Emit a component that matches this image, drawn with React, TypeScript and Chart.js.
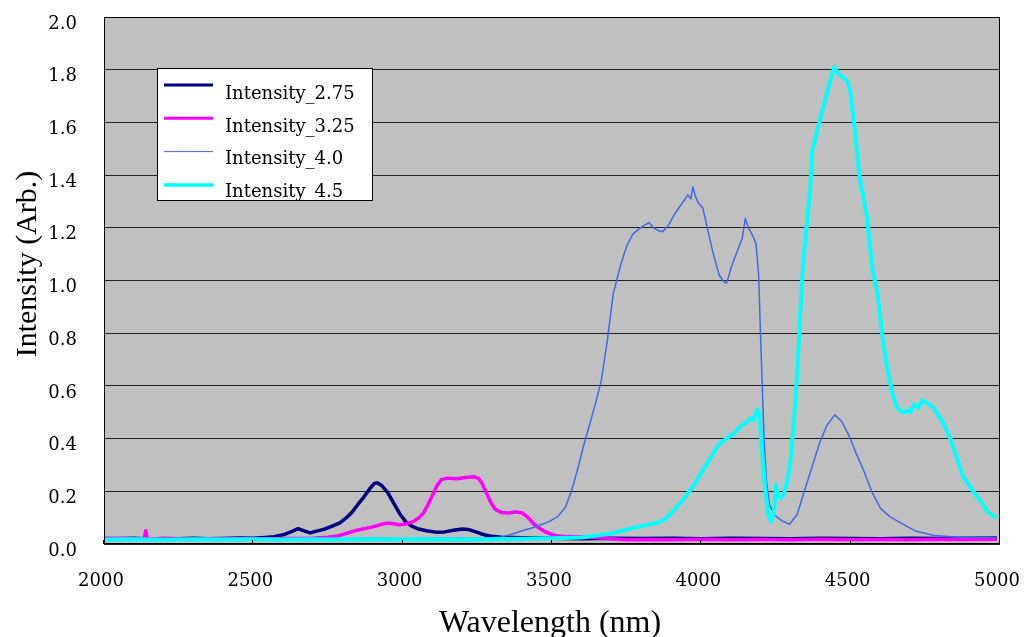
import { useEffect, useRef } from "react";
import { Chart, registerables } from "chart.js";

Chart.register(...registerables);

// Emission spectra, [wavelength (nm), intensity (arb.)]
const INTENSITY_2_75: [number, number][] = [
  [2000, 0.021], [2050, 0.02], [2100, 0.022], [2150, 0.019], [2200, 0.021], [2250, 0.02],
  [2300, 0.022], [2350, 0.02], [2400, 0.021], [2450, 0.023], [2500, 0.022], [2540, 0.025],
  [2570, 0.028], [2600, 0.035], [2630, 0.048], [2650, 0.058], [2670, 0.05], [2690, 0.042],
  [2715, 0.05], [2740, 0.057], [2760, 0.066], [2790, 0.08], [2810, 0.098], [2830, 0.12],
  [2850, 0.15], [2870, 0.178], [2890, 0.21], [2905, 0.23], [2915, 0.232], [2930, 0.222],
  [2950, 0.195], [2970, 0.155], [2990, 0.115], [3010, 0.085], [3030, 0.068], [3050, 0.058],
  [3080, 0.05], [3110, 0.045], [3140, 0.046], [3170, 0.052], [3200, 0.057], [3220, 0.055],
  [3240, 0.048], [3260, 0.04], [3280, 0.033], [3300, 0.029], [3330, 0.026], [3400, 0.024],
  [3500, 0.022], [3600, 0.02], [3700, 0.022], [3800, 0.021], [3900, 0.022], [4000, 0.02],
  [4100, 0.022], [4200, 0.021], [4300, 0.02], [4400, 0.022], [4500, 0.021], [4600, 0.02],
  [4700, 0.022], [4800, 0.021], [4900, 0.022], [4990, 0.023],
];

const INTENSITY_3_25: [number, number][] = [
  [2000, 0.02], [2050, 0.022], [2100, 0.02], [2135, 0.021], [2140, 0.05], [2145, 0.021],
  [2200, 0.02], [2300, 0.018], [2400, 0.021], [2500, 0.019], [2600, 0.021], [2700, 0.022],
  [2750, 0.026], [2780, 0.03], [2810, 0.04], [2840, 0.05], [2870, 0.058], [2900, 0.065],
  [2930, 0.075], [2950, 0.08], [2970, 0.077], [2990, 0.073], [3010, 0.076], [3035, 0.085],
  [3055, 0.1], [3070, 0.118], [3085, 0.15], [3100, 0.185], [3115, 0.222], [3130, 0.245],
  [3150, 0.25], [3180, 0.248], [3210, 0.252], [3240, 0.255], [3255, 0.248], [3265, 0.232],
  [3280, 0.195], [3295, 0.158], [3310, 0.132], [3330, 0.12], [3355, 0.118], [3380, 0.122],
  [3400, 0.118], [3420, 0.1], [3440, 0.075], [3460, 0.058], [3480, 0.045], [3500, 0.036],
  [3520, 0.03], [3550, 0.028], [3600, 0.027], [3650, 0.025], [3700, 0.02], [3750, 0.016],
  [3800, 0.017], [3900, 0.016], [4000, 0.018], [4100, 0.016], [4200, 0.017], [4300, 0.016],
  [4400, 0.018], [4500, 0.016], [4600, 0.017], [4700, 0.016], [4800, 0.018], [4900, 0.017],
  [4990, 0.018],
];

const INTENSITY_4_0: [number, number][] = [
  [2000, 0.02], [2100, 0.021], [2200, 0.019], [2300, 0.02], [2400, 0.021], [2500, 0.02],
  [2600, 0.019], [2700, 0.021], [2800, 0.02], [2900, 0.022], [3000, 0.02], [3100, 0.021],
  [3200, 0.022], [3250, 0.021], [3300, 0.024], [3330, 0.027], [3360, 0.035], [3400, 0.05],
  [3430, 0.06], [3460, 0.072], [3490, 0.085], [3520, 0.105], [3545, 0.14], [3565, 0.2],
  [3585, 0.28], [3605, 0.37], [3625, 0.45], [3645, 0.53], [3665, 0.62], [3685, 0.77],
  [3705, 0.95], [3730, 1.06], [3750, 1.13], [3770, 1.175], [3790, 1.195], [3810, 1.21],
  [3825, 1.22], [3840, 1.2], [3855, 1.19], [3870, 1.185], [3890, 1.21], [3915, 1.26],
  [3940, 1.3], [3955, 1.325], [3965, 1.31], [3972, 1.355], [3980, 1.32], [3990, 1.295],
  [4005, 1.275], [4020, 1.2], [4040, 1.1], [4060, 1.02], [4075, 0.995], [4085, 0.99],
  [4100, 1.05], [4120, 1.11], [4137, 1.16], [4147, 1.235], [4158, 1.2], [4172, 1.17],
  [4183, 1.14], [4192, 1.02], [4198, 0.8], [4204, 0.6], [4210, 0.4], [4218, 0.24],
  [4228, 0.15], [4245, 0.11], [4270, 0.088], [4295, 0.075], [4320, 0.11], [4345, 0.2],
  [4370, 0.29], [4395, 0.38], [4420, 0.45], [4447, 0.49], [4470, 0.465], [4495, 0.41],
  [4520, 0.34], [4545, 0.275], [4570, 0.2], [4600, 0.135], [4630, 0.105], [4670, 0.078],
  [4720, 0.048], [4780, 0.032], [4850, 0.027], [4920, 0.025], [4990, 0.025],
];

const INTENSITY_4_5: [number, number][] = [
  [2000, 0.017], [2100, 0.018], [2200, 0.016], [2300, 0.018], [2400, 0.017], [2500, 0.018],
  [2600, 0.017], [2700, 0.018], [2800, 0.017], [2900, 0.018], [3000, 0.017], [3100, 0.018],
  [3200, 0.017], [3300, 0.018], [3400, 0.02], [3500, 0.022], [3600, 0.025], [3650, 0.032],
  [3700, 0.04], [3750, 0.055], [3800, 0.068], [3850, 0.08], [3880, 0.095], [3910, 0.13],
  [3940, 0.17], [3970, 0.215], [4000, 0.27], [4030, 0.325], [4060, 0.38], [4090, 0.405],
  [4110, 0.42], [4130, 0.445], [4150, 0.46], [4165, 0.478], [4175, 0.47], [4187, 0.512],
  [4195, 0.49], [4203, 0.36], [4213, 0.22], [4223, 0.12], [4233, 0.085], [4243, 0.12],
  [4250, 0.225], [4256, 0.18], [4265, 0.175], [4275, 0.185], [4290, 0.25], [4300, 0.33],
  [4310, 0.47], [4320, 0.63], [4330, 0.85], [4340, 1.05], [4352, 1.2], [4364, 1.34],
  [4372, 1.5], [4380, 1.53], [4395, 1.6], [4412, 1.675], [4430, 1.75], [4445, 1.81],
  [4460, 1.785], [4475, 1.77], [4490, 1.755], [4500, 1.71], [4515, 1.56], [4530, 1.39],
  [4555, 1.24], [4572, 1.05], [4590, 0.95], [4605, 0.8], [4622, 0.67], [4640, 0.57],
  [4655, 0.52], [4672, 0.5], [4690, 0.505], [4700, 0.5], [4712, 0.53], [4725, 0.515],
  [4740, 0.545], [4757, 0.535], [4775, 0.52], [4805, 0.47], [4830, 0.41], [4855, 0.33],
  [4875, 0.26], [4893, 0.23], [4916, 0.19], [4940, 0.156], [4960, 0.12], [4990, 0.1],
];

const SERIES_LABELS = ["Intensity_2.75", "Intensity_3.25", "Intensity_4.0", "Intensity_4.5"];
const SERIES_COLORS = ["#000080", "#ff00ff", "#4169e1", "#00ffff"];
const SERIES_DATA = [INTENSITY_2_75, INTENSITY_3_25, INTENSITY_4_0, INTENSITY_4_5];

const X_TITLE = "Wavelength (nm)";
const Y_TITLE = "Intensity (Arb.)";

const LINE_WIDTHS = [3.5, 3.5, 1.5, 4];
const LEGEND_WIDTHS = [3, 3, 1, 3.5];
const SERIF = "'Liberation Serif', 'Times New Roman', serif";
const TICK_FONT = "'DejaVu Serif', serif";

// Grey plot face, frame, inward x tick marks, the boxed legend and the axis titles
const plotDecor = {
  id: "plotDecor",
  beforeDraw(chart: any) {
    const { ctx, chartArea: a } = chart;
    ctx.save();
    ctx.fillStyle = "#c0c0c0";
    ctx.fillRect(a.left, a.top, a.right - a.left, a.bottom - a.top);
    ctx.restore();
  },
  afterDatasetsDraw(chart: any) {
    const { ctx, chartArea: a } = chart;
    const xs = chart.scales.x;
    ctx.save();
    ctx.strokeStyle = "#000";
    ctx.lineWidth = 1;
    ctx.strokeRect(Math.round(a.left) + 0.5, Math.round(a.top) + 0.5,
      Math.round(a.right - a.left) - 1, Math.round(a.bottom - a.top) - 1);
    ctx.beginPath();
    xs.ticks.forEach((t: any) => {
      const px = Math.round(xs.getPixelForValue(t.value)) - 0.5;
      ctx.moveTo(px, a.bottom);
      ctx.lineTo(px, a.bottom - 4);
    });
    ctx.stroke();
    ctx.restore();
  },
  afterDraw(chart: any) {
    const { ctx } = chart;
    ctx.save();
    // legend box
    const bx = 157, by = 68, bw = 215, bh = 132;
    ctx.fillStyle = "#fff";
    ctx.fillRect(bx, by, bw, bh);
    ctx.strokeStyle = "#000";
    ctx.lineWidth = 1;
    ctx.strokeRect(bx + 0.5, by + 0.5, bw, bh);
    ctx.save();
    ctx.beginPath();
    ctx.rect(bx + 1, by + 1, bw - 1, bh - 1);
    ctx.clip();
    ctx.font = `18px ${TICK_FONT}`;
    ctx.textAlign = "left";
    ctx.textBaseline = "alphabetic";
    chart.data.datasets.forEach((ds: any, i: number) => {
      const ly = 85 + i * 33.3;
      ctx.strokeStyle = ds.borderColor;
      ctx.lineWidth = LEGEND_WIDTHS[i];
      ctx.beginPath();
      ctx.moveTo(164, ly);
      ctx.lineTo(213, ly);
      ctx.stroke();
      ctx.fillStyle = "#000";
      ctx.fillText(ds.label, 225, 99 + i * 32.5);
    });
    ctx.restore();
    // axis titles
    ctx.fillStyle = "#000";
    ctx.textAlign = "center";
    ctx.textBaseline = "alphabetic";
    ctx.font = `32px ${SERIF}`;
    ctx.fillText(X_TITLE, 550, 632);
    ctx.font = `30px ${SERIF}`;
    ctx.translate(36, 264);
    ctx.rotate(-Math.PI / 2);
    ctx.fillText(Y_TITLE, 0, 0);
    ctx.restore();
  },
};

export default function App() {
  const ref = useRef<HTMLCanvasElement | null>(null);

  useEffect(() => {
    if (!ref.current) return;
    const chart = new Chart(ref.current, {
      type: "line",
      data: {
        datasets: SERIES_DATA.map((pts, i) => ({
          label: SERIES_LABELS[i],
          data: pts.map(([x, y]) => ({ x, y })),
          borderColor: SERIES_COLORS[i],
          backgroundColor: SERIES_COLORS[i],
          borderWidth: LINE_WIDTHS[i],
          pointRadius: 0,
          tension: 0,
          borderJoinStyle: "round" as const,
          order: SERIES_DATA.length - i,
        })),
      },
      options: {
        animation: false,
        responsive: false,
        devicePixelRatio: 1,
        layout: { padding: { top: 17, right: 25, left: 0, bottom: 0 } },
        plugins: {
          legend: { display: false },
          tooltip: { enabled: false },
        },
        scales: {
          x: {
            type: "linear",
            min: 2000,
            max: 5000,
            afterFit: (s: any) => {
              s.height = 93;
              s.paddingLeft = 0;
              s.paddingRight = 0;
            },
            grid: { display: false, drawTicks: false },
            border: { display: false },
            ticks: {
              stepSize: 500,
              autoSkip: false,
              maxRotation: 0,
              padding: 27,
              labelOffset: -3,
              color: "#000",
              font: { family: TICK_FONT, size: 18 },
              callback: (v: any) => String(v),
            },
          },
          y: {
            min: 0,
            max: 2,
            afterFit: (s: any) => {
              s.width = 104;
              s.paddingTop = 0;
              s.paddingBottom = 0;
            },
            grid: { color: "#222", lineWidth: 1, drawTicks: false },
            border: { display: false },
            ticks: {
              stepSize: 0.2,
              padding: 27,
              labelOffset: 7,
              color: "#000",
              font: { family: TICK_FONT, size: 18 },
              callback: (v: any) => Number(v).toFixed(1),
            },
          },
        },
      },
      plugins: [plotDecor],
    });
    return () => chart.destroy();
  }, []);

  return (
    <div style={{ position: "fixed", left: 0, top: 0, width: 1025, height: 637, background: "#fff" }}>
      <canvas ref={ref} width={1025} height={637} style={{ display: "block" }} />
    </div>
  );
}
